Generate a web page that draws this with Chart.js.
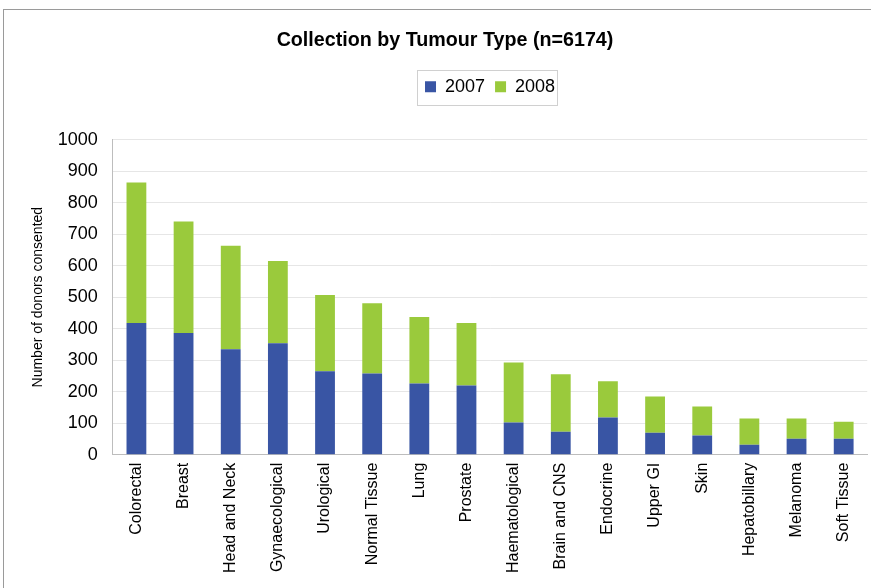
<!DOCTYPE html>
<html>
<head>
<meta charset="utf-8">
<script src="https://cdn.jsdelivr.net/npm/chart.js@4.4.1/dist/chart.umd.min.js"></script>
<style>
  body { margin: 0; background: #fff; }
  #wrap { position: relative; width: 871px; height: 588px; overflow: hidden; }
  #frame { position: absolute; left: 3px; top: 9px; width: 900px; height: 600px;
           border-top: 1px solid #9a9a9a; border-left: 1px solid #9a9a9a; pointer-events: none; }
</style>
</head>
<body>
<div id="wrap">
  <canvas id="bar-chart" width="871" height="588"></canvas>
  <div id="frame"></div>
</div>
<script>
var categories = ["Colorectal", "Breast", "Head and Neck", "Gynaecological", "Urological", "Normal Tissue", "Lung", "Prostate",
  "Haematological", "Brain and CNS", "Endocrine", "Upper GI", "Skin", "Hepatobillary", "Melanoma", "Soft Tissue"];
var y2007 = [418, 386, 335, 354, 265, 258, 226, 220, 102, 73, 118, 70, 61, 32, 51, 51];
var y2008 = [446, 354, 328, 261, 242, 223, 211, 198, 191, 182, 115, 115, 92, 83, 64, 54];
var yTicks = [0, 100, 200, 300, 400, 500, 600, 700, 800, 900, 1000];

Chart.defaults.font.family = "'Liberation Sans', Arial, sans-serif";
Chart.defaults.color = "#000";

// box round the legend items, and extra space below the legend
var legendBox = {
  id: 'legendBox',
  beforeInit: function(chart) {
    var fit = chart.legend.fit;
    chart.legend.fit = function() {
      fit.call(this);
      this.height += 34;
    };
  },
  afterDraw: function(chart) {
    var boxes = chart.legend.legendHitBoxes;
    if (!boxes || !boxes.length) return;
    var l = Infinity, r = -Infinity, t = Infinity, b = -Infinity;
    boxes.forEach(function(h) {
      l = Math.min(l, h.left); r = Math.max(r, h.left + h.width);
      t = Math.min(t, h.top); b = Math.max(b, h.top + h.height);
    });
    var ctx = chart.ctx;
    ctx.save();
    ctx.strokeStyle = '#d0d0d0';
    ctx.lineWidth = 1;
    ctx.strokeRect(Math.round(l - 8) + 0.5, Math.round(t - 8) + 0.5, Math.round(r - l + 10), Math.round(b - t + 17));
    ctx.restore();
  }
};

new Chart(document.getElementById("bar-chart"), {
  type: 'bar',
  data: {
    labels: categories,
    datasets: [
      { label: "2007", backgroundColor: "#3955A4", data: y2007 },
      { label: "2008", backgroundColor: "#9ACA3C", data: y2008 }
    ]
  },
  options: {
    responsive: false,
    animation: false,
    layout: { padding: { left: 22, right: 3, top: 8, bottom: 7 } },
    datasets: { bar: { barPercentage: 0.42, categoryPercentage: 1 } },
    plugins: {
      title: {
        display: true,
        text: 'Collection by Tumour Type (n=6174)',
        font: { size: 19.7, weight: 'bold' },
        padding: { top: 21, bottom: 15 }
      },
      legend: {
        display: true,
        fullSize: false,
        labels: { boxWidth: 11, boxHeight: 11, font: { size: 18 }, padding: 10 }
      },
      tooltip: { enabled: false }
    },
    scales: {
      x: {
        stacked: true,
        grid: { display: false, drawTicks: false },
        border: { color: '#bdbdbd' },
        ticks: { maxRotation: 90, minRotation: 90, autoSkip: false, font: { size: 16 }, padding: 8 }
      },
      y: {
        stacked: true,
        min: 0, max: 1000,
        afterBuildTicks: function(axis) { axis.ticks = yTicks.map(function(v) { return { value: v }; }); },
        afterFit: function(axis) { axis.width -= 4; },
        grid: { color: '#e6e6e6', drawTicks: false },
        border: { color: '#bdbdbd' },
        ticks: { font: { size: 18 }, padding: 15, callback: function(v) { return String(v); } },
        title: { display: true, text: 'Number of donors consented', font: { size: 14 }, padding: { top: 8, bottom: 0 } }
      }
    }
  },
  plugins: [legendBox]
});
</script>
</body>
</html>
